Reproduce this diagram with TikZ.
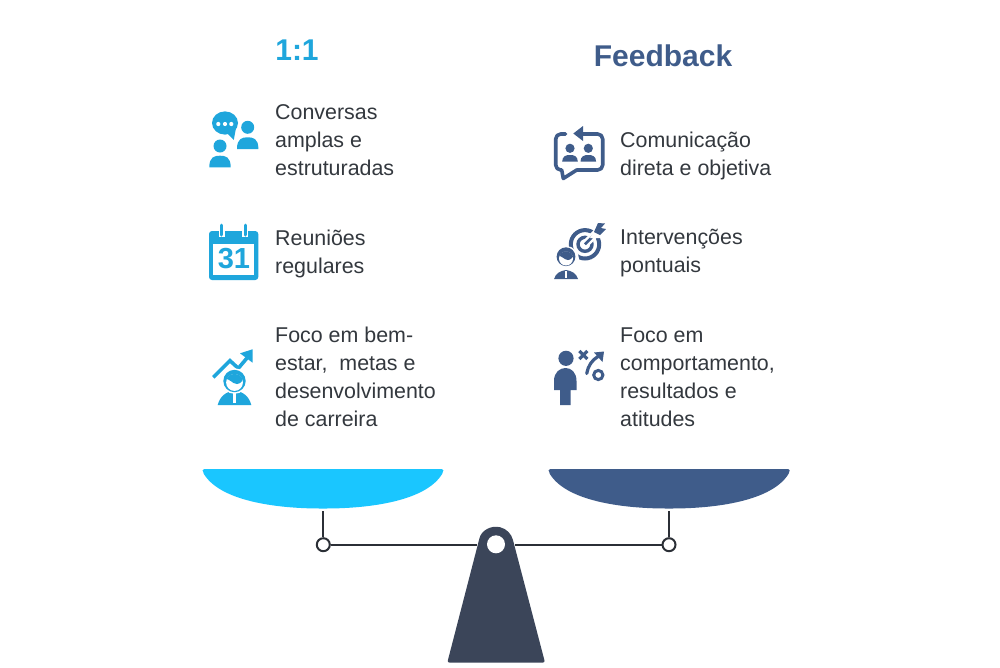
\documentclass[tikz,border=0pt]{standalone}
\usepackage{fontspec}
\setmainfont{Liberation Sans}
\usepackage{tikz}
\usetikzlibrary{arrows.meta,calc}
\definecolor{skyicon}{HTML}{1FA6DC}
\definecolor{skypan}{HTML}{1AC6FF}
\definecolor{navyicon}{HTML}{3F5C8A}
\definecolor{standcol}{HTML}{3B4559}
\definecolor{inktext}{HTML}{33383E}
\definecolor{beamcol}{HTML}{2B2F36}
% head and shoulders: centre x, head y, head radius, half width, body top, body bottom
\newcommand{\bustfig}[6]{%
	\fill (#1,#2) circle (#3);
	\fill (#1-#4,#6) .. controls (#1-#4,#5+1) and (#1-#4*0.5,#5) .. (#1,#5)
		.. controls (#1+#4*0.5,#5) and (#1+#4,#5+1) .. (#1+#4,#6) -- cycle;
}
\begin{document}
\begin{tikzpicture}[
		x=1pt,y=-1pt,
		txt/.style={anchor=west,inner sep=0pt,align=left,text=inktext,font=\fontsize{21.4}{28}\selectfont},
		head/.style={inner sep=0pt,font=\fontsize{30}{36}\selectfont\bfseries},
		beam/.style={draw=beamcol,line width=2.2pt},
		pivot/.style={circle,draw=beamcol,fill=white,line width=2pt,minimum size=13pt,inner sep=0pt},
		skyline/.style={draw=skyicon,line width=3.6pt},
		navyline/.style={draw=navyicon,line width=3.6pt}
		]
		\useasboundingbox (0,0) rectangle (1000,667);
		\fill[white] (0,0) rectangle (1000,667);
		
		% titles
		\node[head,text=skyicon] (tleft) at (297,50) {1:1};
		\node[head,text=navyicon] (tright) at (663,56) {Feedback};
		
		% left texts
		\node[txt] (a1) at (275,140) {Conversas\\amplas e\\estruturadas};
		\node[txt] (a2) at (275,253.5) {Reuniões\\regulares};
		\node[txt] (a3) at (275,377) {Foco em bem-\\estar,\ \ metas e\\desenvolvimento\\de carreira};
		
		% right texts
		\node[txt] (b1) at (620,155.5) {Comunicação\\direta e objetiva};
		\node[txt] (b2) at (620,253.5) {Intervenções\\pontuais};
		\node[txt] (b3) at (620,377) {Foco em\\comportamento,\\resultados e\\atitudes};
		
		% icon: talk
		\begin{scope}[fill=skyicon]
			\fill (225,123) ellipse (13 and 11.6);
			\fill (227,133) -- (233.8,139.8) -- (236,128) -- cycle;
			\fill[white] (218.3,124) circle (2.1) (225,124) circle (2.1) (231.3,124) circle (2.1);
			\bustfig{247.7}{127.3}{6.5}{10.7}{137.3}{149}
			\bustfig{220}{146}{6.5}{10.7}{155.7}{167.3}
		\end{scope}
		
		% icon: calendar
		\fill[skyicon,rounded corners=3pt] (209,231) rectangle (258.3,280);
		\fill[white] (213.3,244.3) rectangle (254.3,275);
		\draw[white,line width=6pt] (221.7,229) -- (221.7,237) (245,229) -- (245,237);
		\draw[skyicon,line width=3pt,line cap=round] (221.7,225) -- (221.7,235) (245,225) -- (245,235);
		\node[inner sep=0pt,text=skyicon,font=\fontsize{29}{29}\selectfont\bfseries] (cal) at (234,259) {31};
		
		% icon: growth
		\draw[skyline] (213.3,377.3) -- (230,360.7) -- (238.3,368.3) -- (247,358);
		\fill[skyicon] (240,353.3) -- (252.6,349.3) -- (252.6,362.7) -- cycle;
		\begin{scope}[fill=skyicon]
			\fill (217.7,405) .. controls (220,396) and (226,392) .. (234.5,390)
				.. controls (243,392) and (249,396) .. (251.3,405) -- cycle;
			\fill[white] (233,391) rectangle (236,403);
			\fill[white] (234.5,381) circle (12.8);
			\fill (234.5,381) circle (11.2);
			\fill[white] (234.5,382.5) circle (8.4);
			\begin{scope}
				\clip (234.5,382.5) circle (8.6);
				\fill (224,370) -- (224,379) .. controls (230,378) and (232,384) .. (237,384)
					.. controls (241,384) and (243,380) .. (245,375) -- (245,370) -- cycle;
			\end{scope}
		\end{scope}
		
		% icon: exchange
		\draw[navyline,line cap=round,line join=round] (565.5,134) [rounded corners=5pt] -- (555.7,134) -- (555.7,170) [sharp corners] -- (561.7,170) -- (563.3,178.5) -- (576.7,170) [rounded corners=5pt] -- (602.7,170) -- (602.7,134) -- (578,134);
		\fill[navyicon] (573.3,133.5) -- (583,126) -- (583,141) -- cycle;
		\begin{scope}[fill=navyicon]
			\bustfig{570}{148.3}{4.6}{7.8}{155}{161.7}
			\bustfig{588.3}{148.3}{4.6}{7.8}{155}{161.7}
		\end{scope}
		
		% icon: target
		\draw[navyline,line width=4pt] (585,244.3) circle (14.2);
		\draw[navyline,line width=3.4pt] (585,244.3) circle (7);
		\draw[white,line width=7.5pt] (585,244.3) -- (598,231);
		\draw[navyline,line width=2.6pt] (585,244.3) -- (597,232);
		\fill[white] (600,222) -- (606,228) -- (601,238) -- (590,238) -- cycle;
		\fill[navyicon] (598,223) -- (605,223.5) -- (601,228) -- (606,229) -- (600,235) -- (594,232) -- cycle;
		\fill[white] (566,259) circle (13);
		\fill[white] (552,268) rectangle (578,280);
		\begin{scope}[fill=navyicon]
			\fill (554,279) .. controls (556,273) and (560,271) .. (566,270)
				.. controls (572,271) and (576,273) .. (578,279) -- cycle;
			\fill[white] (565,271) rectangle (567,278);
			\fill (566,256.7) circle (9.4);
			\fill[white] (566,258.5) circle (7);
			\begin{scope}
				\clip (566,258.5) circle (7.2);
				\fill (557,248) -- (557,256) .. controls (562,255) and (564,260) .. (568,260)
					.. controls (571,260) and (573,257) .. (575,253) -- (575,248) -- cycle;
			\end{scope}
		\end{scope}
		
		% icon: player
		\fill[navyicon] (566,358.3) circle (7.6);
		\fill[navyicon] (554,390) -- (554,381) .. controls (554,372) and (560,368) .. (565.5,368)
			.. controls (571,368) and (576.5,372) .. (576.5,381) -- (576.5,390) -- (570.5,390) -- (570.5,405) -- (560,405) -- (560,390) -- cycle;
		\draw[navyline,line width=3.2pt] (579.3,351) -- (587.3,359) (587.3,351) -- (579.3,359);
		\draw[navyline,line width=3pt] (598.3,375) circle (4.6);
		\draw[navyline,line width=3.2pt,line cap=round] (586.7,373.5) .. controls (588,366) and (592,360) .. (598,356.5);
		\fill[navyicon] (594,352.5) -- (604,351.5) -- (602.5,362) -- cycle;
		
		% pans
		\fill[skypan,rounded corners=2pt] (202.7,469) -- (443.3,469) -- (443.3,472) .. controls (426,501) and (370,508.5) .. (323,508.5) .. controls (276,508.5) and (220,501) .. (202.7,472) -- cycle;
		\fill[navyicon,rounded corners=2pt] (548.7,469) -- (789.7,469) -- (789.7,472) .. controls (772,501) and (716,508.5) .. (669,508.5) .. controls (622,508.5) and (566,501) .. (548.7,472) -- cycle;
		
		% stand
		\fill[standcol,rounded corners=2pt] (447.3,662.5) -- (479,540) [sharp corners]
			arc[start angle=-166,end angle=-14,radius=17.5] [rounded corners=2pt] -- (545,662.5) -- cycle;
		\fill[white] (496,544.3) circle (9);
		
		% beam
		\coordinate (panl) at (323.3,511);
		\coordinate (panr) at (669,511);
		\coordinate (gapl) at (477,544.7);
		\coordinate (gapr) at (515,544.7);
		\node[pivot] (pl) at (323.3,544.7) {};
		\node[pivot] (pr) at (669,544.7) {};
		\draw[beam] (panl) -- (pl);
		\draw[beam] (panr) -- (pr);
		\draw[beam] (pl) -- (gapl);
		\draw[beam] (pr) -- (gapr);
	\end{tikzpicture}
\end{document}
